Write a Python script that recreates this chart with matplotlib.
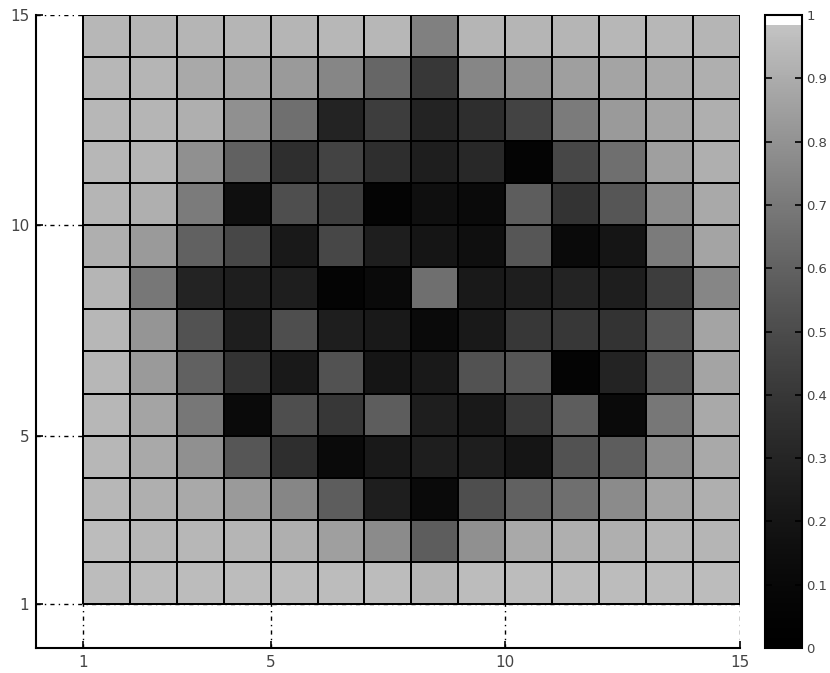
import numpy as np
import matplotlib
matplotlib.use("Agg")
import matplotlib.pyplot as plt
from matplotlib.colors import ListedColormap

# valores das células (linha de cima -> linha de baixo), colunas 1..14
linhas = [
    [0.94, 0.93, 0.93, 0.93, 0.93, 0.94, 0.94, 0.73, 0.93, 0.93, 0.93, 0.94, 0.94, 0.93],
    [0.94, 0.93, 0.89, 0.87, 0.83, 0.75, 0.62, 0.40, 0.75, 0.79, 0.85, 0.87, 0.89, 0.91],
    [0.94, 0.93, 0.91, 0.79, 0.66, 0.29, 0.43, 0.29, 0.35, 0.46, 0.71, 0.83, 0.87, 0.91],
    [0.94, 0.93, 0.79, 0.60, 0.35, 0.46, 0.35, 0.26, 0.32, 0.07, 0.48, 0.66, 0.85, 0.91],
    [0.93, 0.91, 0.71, 0.16, 0.51, 0.43, 0.07, 0.16, 0.12, 0.58, 0.38, 0.55, 0.77, 0.89],
    [0.91, 0.83, 0.60, 0.48, 0.23, 0.48, 0.26, 0.20, 0.16, 0.55, 0.12, 0.20, 0.71, 0.87],
    [0.93, 0.69, 0.29, 0.26, 0.26, 0.07, 0.12, 0.66, 0.23, 0.26, 0.29, 0.26, 0.43, 0.75],
    [0.94, 0.81, 0.53, 0.26, 0.51, 0.26, 0.23, 0.12, 0.23, 0.40, 0.40, 0.38, 0.55, 0.87],
    [0.94, 0.83, 0.60, 0.38, 0.23, 0.53, 0.20, 0.23, 0.53, 0.55, 0.07, 0.29, 0.55, 0.87],
    [0.94, 0.87, 0.69, 0.12, 0.51, 0.40, 0.58, 0.26, 0.23, 0.40, 0.58, 0.12, 0.69, 0.89],
    [0.94, 0.89, 0.79, 0.55, 0.35, 0.12, 0.23, 0.26, 0.26, 0.20, 0.53, 0.58, 0.77, 0.89],
    [0.94, 0.91, 0.89, 0.83, 0.75, 0.58, 0.26, 0.12, 0.51, 0.60, 0.66, 0.77, 0.87, 0.91],
    [0.96, 0.94, 0.94, 0.93, 0.91, 0.85, 0.77, 0.58, 0.79, 0.89, 0.91, 0.91, 0.93, 0.93],
    [0.96, 0.96, 0.96, 0.96, 0.96, 0.96, 0.96, 0.93, 0.96, 0.96, 0.96, 0.96, 0.96, 0.96],
]
x_bordas = np.arange(1, 16)
y_bordas = np.arange(1, 16)
ticks = [1, 5, 10, 15]
ticks_cbar = [0, 0.1, 0.2, 0.3, 0.4, 0.5, 0.6, 0.7, 0.8, 0.9, 1]
rotulos_cbar = ["0", "0.1", "0.2", "0.3", "0.4", "0.5", "0.6", "0.7", "0.8", "0.9", "1"]

z = np.array(linhas)[::-1]

# colormap cinza (não linear) com faixa branca no topo
t = np.linspace(0, 1, 256)
cinza = 0.765 * (t / 0.985) ** 1.4
cinza[t > 0.985] = 1.0
cores = np.column_stack([cinza, cinza, cinza, np.ones_like(cinza)])
cmap = ListedColormap(cores)

fig = plt.figure(figsize=(8.3, 6.73), dpi=100)
ax = fig.add_axes([0.0434, 0.0374, 0.848, 0.940])
cax = fig.add_axes([0.9217, 0.0374, 0.0446, 0.940])

ax.set_axisbelow(True)
ax.grid(True, color="black", linestyle=(0, (3, 3, 1, 3)), linewidth=1.0)
m = ax.pcolormesh(x_bordas, y_bordas, z, cmap=cmap, vmin=0, vmax=1,
                  edgecolors="black", linewidth=1.3, zorder=2)

ax.set_xlim(0, 15)
ax.set_ylim(-0.05, 15)
ax.set_xticks(ticks)
ax.set_yticks(ticks)
ax.tick_params(direction="in", length=5, width=1.2, labelsize=11,
               labelcolor="#444444", pad=5)
ax.spines["top"].set_visible(False)
ax.spines["right"].set_visible(False)
for s in ["left", "bottom"]:
    ax.spines[s].set_linewidth(1.5)

cb = fig.colorbar(m, cax=cax)
cb.set_ticks(ticks_cbar)
cb.set_ticklabels(rotulos_cbar)
cb.outline.set_linewidth(1.5)
cax.tick_params(direction="in", length=5, width=1.2, labelsize=9.5,
                labelcolor="#444444", left=True, right=True, pad=3)

fig.savefig("out.png", dpi=100)
